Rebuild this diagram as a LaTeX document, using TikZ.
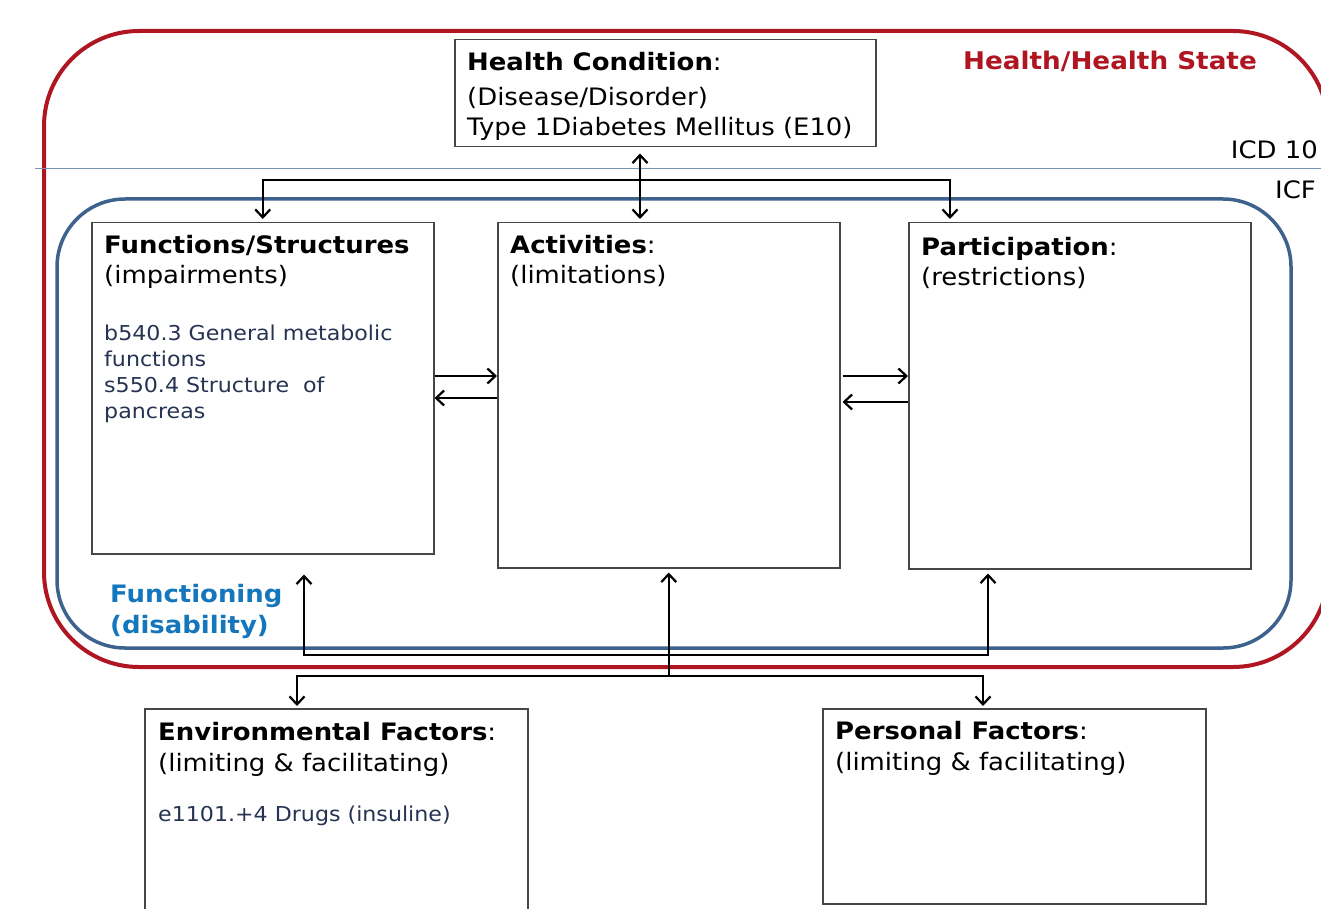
\documentclass[tikz,border=0pt]{standalone}
\usepackage{fontspec}
\setmainfont{DejaVu Sans}[FakeStretch=1.08]
\usetikzlibrary{arrows.meta}
\definecolor{hred}{RGB}{176,22,34}
\definecolor{fblue}{RGB}{62,98,142}
\definecolor{ftext}{RGB}{20,118,188}
\definecolor{codec}{RGB}{38,52,82}
\definecolor{icdline}{RGB}{120,150,180}
\definecolor{boxc}{RGB}{70,70,70}
\tikzset{
  box/.style={draw=boxc, line width=1.5pt, fill=white, anchor=north west, inner sep=0pt},
  ttl/.style={anchor=north west, inner sep=0pt, align=left, font=\fontsize{24}{30.5}\selectfont},
  code/.style={anchor=north west, inner sep=0pt, align=left, text=codec, font=\fontsize{20.5}{26}\selectfont},
  conn/.style={draw=black, line width=2.4pt},
  tip/.tip={Straight Barb[length=8pt,width=15pt,line width=2.2pt]},
  side/.style={anchor=east, inner sep=0pt, font=\fontsize{24}{28}\selectfont}
}
\begin{document}
\begin{tikzpicture}[x=1pt,y=-1pt]
\clip (0,0) rectangle (1321,909);
\fill[white] (0,0) rectangle (1321,909);

% frames
\draw[hred, line width=4pt, rounded corners=95pt] (44,31) rectangle (1328,667);
\draw[icdline, line width=1pt] (35,169) -- (1321,169);
\draw[fblue, line width=3.5pt, rounded corners=68pt] (57,199) rectangle (1291,648);

% labels
\node[anchor=west, inner sep=0pt, text=hred, font=\bfseries\fontsize{24.3}{28}\selectfont] (hs) at (963,61) {Health/Health State};
\node[side] (icd) at (1318,150) {ICD 10};
\node[side] (icf) at (1316,190) {ICF};
\node[anchor=north west, inner sep=0pt, align=left, text=ftext, font=\bfseries\fontsize{24}{31}\selectfont] (fun) at (110,584.5) {Functioning\\(disability)};

% boxes
\node[box, minimum width=421pt, minimum height=107pt] (hc) at (454,39) {};
\node[box, minimum width=342pt, minimum height=331pt] (fs) at (91,222) {};
\node[box, minimum width=342pt, minimum height=345pt] (act) at (497,222) {};
\node[box, minimum width=342pt, minimum height=346pt] (pa) at (908,222) {};
\node[box, minimum width=383pt, minimum height=230pt] (env) at (144,708) {};
\node[box, minimum width=383pt, minimum height=195pt] (pf) at (822,708) {};

% texts
\node[ttl, font=\fontsize{24}{30}\selectfont] (hct) at (467,52.5) {\textbf{Health Condition}:\\[5pt](Disease/Disorder)\\Type 1Diabetes Mellitus (E10)};
\node[ttl] (fst) at (104,235) {\textbf{Functions/Structures}\\(impairments)};
\node[code] (fsc) at (104,325) {b540.3 General metabolic\\functions\\s550.4 Structure\ \ of\\pancreas};
\node[ttl] (actt) at (510,235) {\textbf{Activities}:\\(limitations)};
\node[ttl] (pat) at (921,237) {\textbf{Participation}:\\(restrictions)};
\node[ttl] (envt) at (158,722.5) {\textbf{Environmental Factors}:\\(limiting \& facilitating)};
\node[code] (envc) at (158,806) {e1101.+4 Drugs (insuline)};
\node[ttl] (pft) at (835,721.5) {\textbf{Personal Factors}:\\(limiting \& facilitating)};

% helper coordinates
\coordinate (xa) at (640,0);
\coordinate (xp) at (950,0);
\coordinate (ytop) at (0,180);
\coordinate (xl) at (304,0);
\coordinate (xr) at (988,0);
\coordinate (ymid) at (0,655);
\coordinate (ylow) at (0,676);
\coordinate (xe) at (297,0);
\coordinate (xq) at (983,0);
\coordinate (y1) at (0,376);
\coordinate (y2) at (0,398);
\coordinate (y3) at (0,376);
\coordinate (y4) at (0,402);

% top connectors
\draw[conn, {tip}-{tip}, shorten <=6pt, shorten >=3pt] (hc.south -| xa) -- (act.north -| xa);
\draw[conn, {tip}-{tip}, shorten <=3pt, shorten >=3pt] (fs.north) -- (fs.north |- ytop) -- (xp |- ytop) -- (pa.north -| xp);

% side connectors
\draw[conn, -{tip}] (fs.east |- y1) -- (act.west |- y1);
\draw[conn, -{tip}] (act.west |- y2) -- (fs.east |- y2);
\draw[conn, -{tip}, shorten <=2pt] (act.east |- y3) -- (pa.west |- y3);
\draw[conn, -{tip}, shorten >=2pt] (pa.west |- y4) -- (act.east |- y4);

% bottom connectors
\draw[conn, {tip}-{tip}, shorten <=20pt, shorten >=4pt] (fs.south -| xl) -- (xl |- ymid) -- (xr |- ymid) -- (pa.south -| xr);
\draw[conn, -{tip}, shorten >=4pt] (act.south |- ylow) -- (act.south);
\draw[conn, {tip}-{tip}, shorten <=2pt, shorten >=2pt] (env.north -| xe) -- (xe |- ylow) -- (xq |- ylow) -- (pf.north -| xq);
\end{tikzpicture}
\end{document}
